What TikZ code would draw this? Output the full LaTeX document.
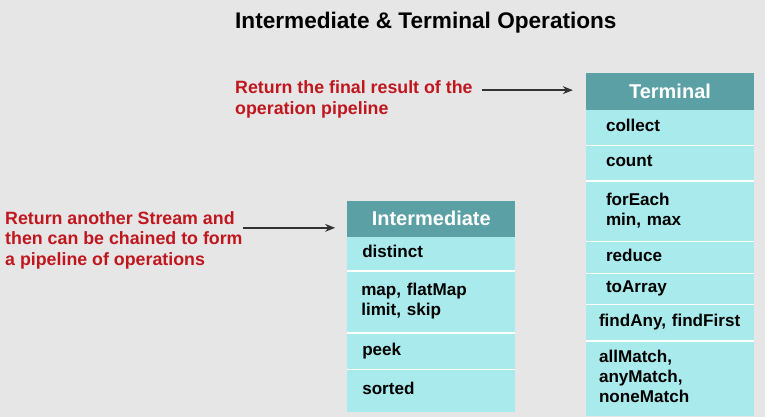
\documentclass[tikz,border=0pt]{standalone}
\usepackage{fontspec}
\setmainfont{Liberation Sans}
\usetikzlibrary{positioning,arrows.meta,calc}

\definecolor{bggrey}{HTML}{E6E6E6}
\definecolor{headteal}{HTML}{5BA0A4}
\definecolor{rowcyan}{HTML}{A9EAEC}
\definecolor{notered}{HTML}{C0161E}
\definecolor{pointgrey}{HTML}{333333}

\newcommand{\rowfont}{\fontsize{17.1}{20}\selectfont\bfseries\hyphenpenalty=10000}
\newcommand{\notefont}{\fontsize{17.8}{20.6}\selectfont\bfseries}
\newcommand{\rowstrut}{\rule[-4.5pt]{0pt}{15.5pt}}

\tikzset{
  headbox/.style={rectangle, fill=headteal, text=white, minimum width=168,
    inner sep=0, font=\fontsize{20}{24}\selectfont\bfseries},
  rowbox/.style={rectangle, fill=rowcyan, minimum width=168, inner ysep=0,
    inner xsep=#1, text width=168-2*#1, align=left, font=\rowfont},
  rowbox/.default=20,
  sepline/.style={draw=white, line width=1.5},
  note/.style={text=notered, align=left, inner sep=0, font=\notefont},
  pointer/.style={draw=pointgrey, line width=1.3, -{Stealth[length=10pt,width=8pt]}}
}

\begin{document}
\begin{tikzpicture}[x=1pt, y=-1pt]
  \useasboundingbox[fill=bggrey] (0,0) rectangle (765,417);

  % title
  \node[anchor=base west, inner sep=0, font=\fontsize{22.6}{27}\selectfont\bfseries]
    (title) at (235,28.3) {Intermediate \& Terminal Operations};

  % intermediate column
  \node[headbox, minimum height=35.7] (inthead) at (431.25,218.85) {Intermediate};
  \node[rowbox=15, minimum height=33.6, below=0pt of inthead] (int1) {\rowstrut distinct};
  \node[rowbox=14, minimum height=61.7, below=0pt of int1] (int2) {\rowstrut map, flatMap\\\rowstrut limit, skip};
  \node[rowbox=15, minimum height=36.3, below=0pt of int2] (int3) {\rowstrut peek};
  \node[rowbox=15, minimum height=41.7, below=0pt of int3] (int4) {\rowstrut sorted};
  \draw[sepline] (int1.south west) -- (int1.south east);
  \draw[sepline] (int2.south west) -- (int2.south east);
  \draw[sepline] (int3.south west) -- (int3.south east);

  % terminal column
  \node[headbox, minimum height=36.7] (termhead) at (670,91.65) {Terminal};
  \node[rowbox, minimum height=35, below=0pt of termhead] (term1) {\rowstrut collect};
  \node[rowbox, minimum height=35, below=0pt of term1] (term2) {\rowstrut count};
  \node[rowbox, minimum height=60, below=0pt of term2] (term3) {\rowstrut forEach\\\rowstrut min, max};
  \node[rowbox, minimum height=31.7, below=0pt of term3] (term4) {\rowstrut reduce};
  \node[rowbox, minimum height=30.6, below=0pt of term4] (term5) {\rowstrut toArray};
  \node[rowbox=13, minimum height=36, below=0pt of term5] (term6) {\rowstrut\mbox{findAny, findFirst}};
  \node[rowbox=13, minimum height=74.4, below=0pt of term6] (term7) {\rowstrut allMatch,\\\rowstrut anyMatch,\\\rowstrut noneMatch};
  \draw[sepline] (term1.south west) -- (term1.south east);
  \draw[sepline] (term2.south west) -- (term2.south east);
  \draw[sepline] (term3.south west) -- (term3.south east);
  \draw[sepline] (term4.south west) -- (term4.south east);
  \draw[sepline] (term5.south west) -- (term5.south east);
  \draw[sepline] (term6.south west) -- (term6.south east);

  % notes and pointers
  \node[note, anchor=north west] (intnote) at (5,209.6)
    {\strut Return another Stream and\\\strut then can be chained to form\\\strut a pipeline of operations};
  \node[note, anchor=north west] (termnote) at (235,79)
    {\strut Return the final result of the\\\strut operation pipeline};

  \coordinate (intend) at ($(inthead.west)+(-12,9)$);
  \coordinate (intstart) at (intnote.east |- intend);
  \draw[pointer] (intstart) -- (intend);

  \coordinate (termend) at ($(termhead.west)+(-13,-1.5)$);
  \coordinate (termstart) at ($(termnote.east |- termend)+(9,0)$);
  \draw[pointer] (termstart) -- (termend);
\end{tikzpicture}
\end{document}
